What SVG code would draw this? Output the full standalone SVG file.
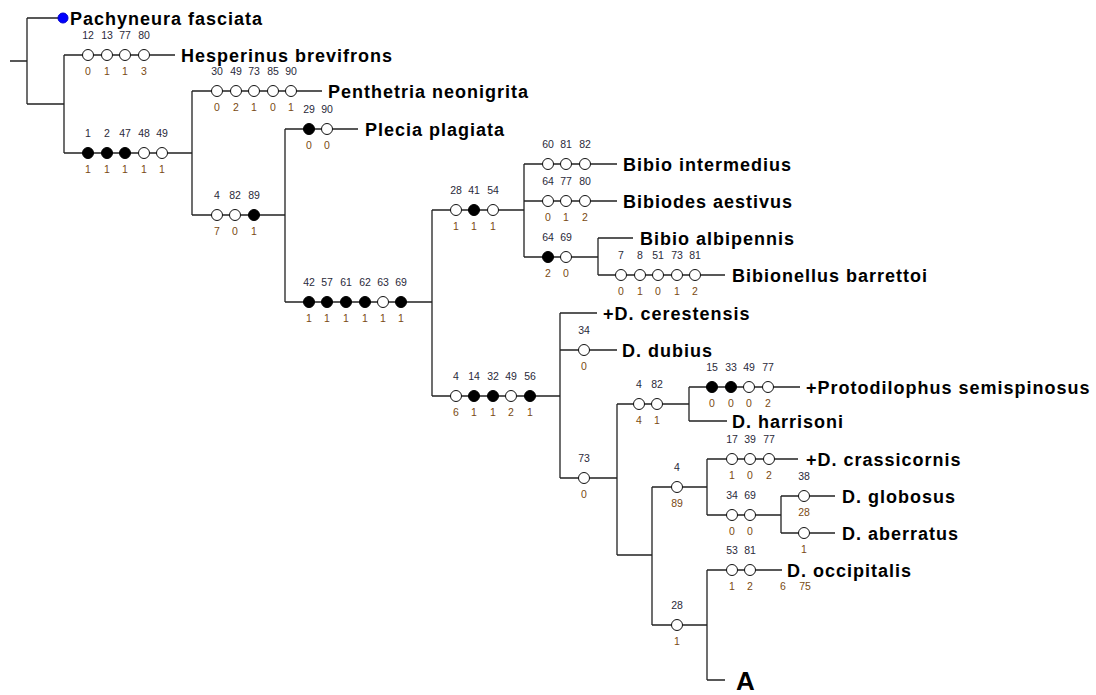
<svg xmlns="http://www.w3.org/2000/svg" width="1096" height="695" viewBox="0 0 1096 695">
<style>
.ln{stroke:#222;stroke-width:1.3;fill:none}
.o{fill:#fff;stroke:#111;stroke-width:1}
.f{fill:#000;stroke:#000;stroke-width:1}
.t{font-family:"Liberation Sans",Arial,sans-serif;font-size:10.5px;fill:#2a2a3a;text-anchor:middle}
.b{font-family:"Liberation Sans",Arial,sans-serif;font-size:10.5px;fill:#7a4a12;text-anchor:middle}
.n{font-family:"Liberation Sans",Arial,sans-serif;font-size:18px;font-weight:bold;letter-spacing:1px;fill:#000}
</style>
<rect width="1096" height="695" fill="#fff"/>
<g id="connectors" class="ln">
<path d="M10 61H27M27 18V104M27 18H63M27 104H64"/>
<path d="M64 55V153M64 55H175M64 153H192"/>
<path d="M192 91V215M192 91H322M192 215H285"/>
<path d="M285 129V302M285 129H358M285 302H432"/>
<path d="M432 210V396M432 210H524M432 396H560"/>
<path d="M524 164V257M524 164H617M524 201H617M524 257H598"/>
<path d="M598 238V275M598 238H633M598 275H725"/>
<path d="M560 313V478M560 313H597M560 350H617M560 478H617"/>
<path d="M617 404V555M617 404H689M617 555H652"/>
<path d="M689 387V421M689 387H800M689 421H727"/>
<path d="M652 487V625M652 487H707M652 625H707"/>
<path d="M707 459V515M707 459H798M707 515H781"/>
<path d="M781 496V533M781 496H835M781 533H835"/>
<path d="M707 570V680M707 570H782M707 680H725"/>
</g>
<g id="pachyneura"><circle cx="63" cy="18" r="5" fill="#0000ff" stroke="#0000cc"/><text class="n" x="70" y="24.5">Pachyneura fasciata</text></g>
<g id="hesperinus">
<circle class="o" cx="88" cy="55" r="5.5"/><circle class="o" cx="107" cy="55" r="5.5"/><circle class="o" cx="125" cy="55" r="5.5"/><circle class="o" cx="144" cy="55" r="5.5"/>
<text class="t" y="39"><tspan x="88">12</tspan><tspan x="107">13</tspan><tspan x="125">77</tspan><tspan x="144">80</tspan></text>
<text class="b" y="75"><tspan x="88">0</tspan><tspan x="107">1</tspan><tspan x="125">1</tspan><tspan x="144">3</tspan></text>
<text class="n" x="181" y="61.5">Hesperinus brevifrons</text></g>
<g id="node-bibionidae">
<circle class="f" cx="88" cy="153" r="5.5"/><circle class="f" cx="107" cy="153" r="5.5"/><circle class="f" cx="125" cy="153" r="5.5"/><circle class="o" cx="144" cy="153" r="5.5"/><circle class="o" cx="162" cy="153" r="5.5"/>
<text class="t" y="137"><tspan x="88">1</tspan><tspan x="107">2</tspan><tspan x="125">47</tspan><tspan x="144">48</tspan><tspan x="162">49</tspan></text>
<text class="b" y="173"><tspan x="88">1</tspan><tspan x="107">1</tspan><tspan x="125">1</tspan><tspan x="144">1</tspan><tspan x="162">1</tspan></text></g>
<g id="penthetria">
<circle class="o" cx="217" cy="91" r="5.5"/><circle class="o" cx="236" cy="91" r="5.5"/><circle class="o" cx="254" cy="91" r="5.5"/><circle class="o" cx="273" cy="91" r="5.5"/><circle class="o" cx="291" cy="91" r="5.5"/>
<text class="t" y="75"><tspan x="217">30</tspan><tspan x="236">49</tspan><tspan x="254">73</tspan><tspan x="273">85</tspan><tspan x="291">90</tspan></text>
<text class="b" y="111"><tspan x="217">0</tspan><tspan x="236">2</tspan><tspan x="254">1</tspan><tspan x="273">0</tspan><tspan x="291">1</tspan></text>
<text class="n" x="328" y="97.5">Penthetria neonigrita</text></g>
<g id="node-2">
<circle class="o" cx="217" cy="215" r="5.5"/><circle class="o" cx="235" cy="215" r="5.5"/><circle class="f" cx="254" cy="215" r="5.5"/>
<text class="t" y="199"><tspan x="217">4</tspan><tspan x="235">82</tspan><tspan x="254">89</tspan></text>
<text class="b" y="235"><tspan x="217">7</tspan><tspan x="235">0</tspan><tspan x="254">1</tspan></text></g>
<g id="plecia">
<circle class="f" cx="309" cy="129" r="5.5"/><circle class="o" cx="327" cy="129" r="5.5"/>
<text class="t" y="113"><tspan x="309">29</tspan><tspan x="327">90</tspan></text>
<text class="b" y="149"><tspan x="309">0</tspan><tspan x="327">0</tspan></text>
<text class="n" x="365" y="135.5">Plecia plagiata</text></g>
<g id="node-3">
<circle class="f" cx="309" cy="302" r="5.5"/><circle class="f" cx="327" cy="302" r="5.5"/><circle class="f" cx="346" cy="302" r="5.5"/><circle class="f" cx="365" cy="302" r="5.5"/><circle class="o" cx="383" cy="302" r="5.5"/><circle class="f" cx="401" cy="302" r="5.5"/>
<text class="t" y="286"><tspan x="309">42</tspan><tspan x="327">57</tspan><tspan x="346">61</tspan><tspan x="365">62</tspan><tspan x="383">63</tspan><tspan x="401">69</tspan></text>
<text class="b" y="322"><tspan x="309">1</tspan><tspan x="327">1</tspan><tspan x="346">1</tspan><tspan x="365">1</tspan><tspan x="383">1</tspan><tspan x="401">1</tspan></text></g>
<g id="node-bibio">
<circle class="o" cx="456" cy="210" r="5.5"/><circle class="f" cx="474" cy="210" r="5.5"/><circle class="o" cx="493" cy="210" r="5.5"/>
<text class="t" y="194"><tspan x="456">28</tspan><tspan x="474">41</tspan><tspan x="493">54</tspan></text>
<text class="b" y="230"><tspan x="456">1</tspan><tspan x="474">1</tspan><tspan x="493">1</tspan></text></g>
<g id="bibio-intermedius">
<circle class="o" cx="548" cy="164" r="5.5"/><circle class="o" cx="566" cy="164" r="5.5"/><circle class="o" cx="585" cy="164" r="5.5"/>
<text class="t" y="148"><tspan x="548">60</tspan><tspan x="566">81</tspan><tspan x="585">82</tspan></text>
<text class="n" x="623" y="170.5">Bibio intermedius</text></g>
<g id="bibiodes">
<circle class="o" cx="548" cy="201" r="5.5"/><circle class="o" cx="566" cy="201" r="5.5"/><circle class="o" cx="585" cy="201" r="5.5"/>
<text class="t" y="185"><tspan x="548">64</tspan><tspan x="566">77</tspan><tspan x="585">80</tspan></text>
<text class="b" y="221"><tspan x="548">0</tspan><tspan x="566">1</tspan><tspan x="585">2</tspan></text>
<text class="n" x="623" y="207.5">Bibiodes aestivus</text></g>
<g id="node-4">
<circle class="f" cx="548" cy="257" r="5.5"/><circle class="o" cx="566" cy="257" r="5.5"/>
<text class="t" y="241"><tspan x="548">64</tspan><tspan x="566">69</tspan></text>
<text class="b" y="277"><tspan x="548">2</tspan><tspan x="566">0</tspan></text></g>
<g id="bibio-albipennis"><text class="n" x="640" y="244.5">Bibio albipennis</text></g>
<g id="bibionellus">
<circle class="o" cx="621" cy="275" r="5.5"/><circle class="o" cx="640" cy="275" r="5.5"/><circle class="o" cx="658" cy="275" r="5.5"/><circle class="o" cx="677" cy="275" r="5.5"/><circle class="o" cx="695" cy="275" r="5.5"/>
<text class="t" y="259"><tspan x="621">7</tspan><tspan x="640">8</tspan><tspan x="658">51</tspan><tspan x="677">73</tspan><tspan x="695">81</tspan></text>
<text class="b" y="295"><tspan x="621">0</tspan><tspan x="640">1</tspan><tspan x="658">0</tspan><tspan x="677">1</tspan><tspan x="695">2</tspan></text>
<text class="n" x="732" y="281.5">Bibionellus barrettoi</text></g>
<g id="node-dilophus">
<circle class="o" cx="456" cy="396" r="5.5"/><circle class="f" cx="474" cy="396" r="5.5"/><circle class="f" cx="493" cy="396" r="5.5"/><circle class="o" cx="511" cy="396" r="5.5"/><circle class="f" cx="530" cy="396" r="5.5"/>
<text class="t" y="380"><tspan x="456">4</tspan><tspan x="474">14</tspan><tspan x="493">32</tspan><tspan x="511">49</tspan><tspan x="530">56</tspan></text>
<text class="b" y="416"><tspan x="456">6</tspan><tspan x="474">1</tspan><tspan x="493">1</tspan><tspan x="511">2</tspan><tspan x="530">1</tspan></text></g>
<g id="d-cerestensis"><text class="n" x="603" y="319.5">+D. cerestensis</text></g>
<g id="d-dubius">
<circle class="o" cx="584" cy="350" r="5.5"/>
<text class="t" x="584" y="334">34</text><text class="b" x="584" y="370">0</text>
<text class="n" x="622" y="356.5">D. dubius</text></g>
<g id="node-5">
<circle class="o" cx="584" cy="478" r="5.5"/>
<text class="t" x="584" y="462">73</text><text class="b" x="584" y="498">0</text></g>
<g id="node-6">
<circle class="o" cx="639" cy="404" r="5.5"/><circle class="o" cx="657" cy="404" r="5.5"/>
<text class="t" y="388"><tspan x="639">4</tspan><tspan x="657">82</tspan></text>
<text class="b" y="424"><tspan x="639">4</tspan><tspan x="657">1</tspan></text></g>
<g id="protodilophus">
<circle class="f" cx="712" cy="387" r="5.5"/><circle class="f" cx="731" cy="387" r="5.5"/><circle class="o" cx="749" cy="387" r="5.5"/><circle class="o" cx="768" cy="387" r="5.5"/>
<text class="t" y="371"><tspan x="712">15</tspan><tspan x="731">33</tspan><tspan x="749">49</tspan><tspan x="768">77</tspan></text>
<text class="b" y="407"><tspan x="712">0</tspan><tspan x="731">0</tspan><tspan x="749">0</tspan><tspan x="768">2</tspan></text>
<text class="n" x="806" y="393.5">+Protodilophus semispinosus</text></g>
<g id="d-harrisoni"><text class="n" x="732" y="427.5">D. harrisoni</text></g>
<g id="node-7">
<circle class="o" cx="677" cy="487" r="5.5"/>
<text class="t" x="677" y="471">4</text><text class="b" x="677" y="507">89</text></g>
<g id="d-crassicornis">
<circle class="o" cx="732" cy="459" r="5.5"/><circle class="o" cx="750" cy="459" r="5.5"/><circle class="o" cx="769" cy="459" r="5.5"/>
<text class="t" y="443"><tspan x="732">17</tspan><tspan x="750">39</tspan><tspan x="769">77</tspan></text>
<text class="b" y="479"><tspan x="732">1</tspan><tspan x="750">0</tspan><tspan x="769">2</tspan></text>
<text class="n" x="806" y="465.5">+D. crassicornis</text></g>
<g id="node-8">
<circle class="o" cx="732" cy="515" r="5.5"/><circle class="o" cx="750" cy="515" r="5.5"/>
<text class="t" y="499"><tspan x="732">34</tspan><tspan x="750">69</tspan></text>
<text class="b" y="535"><tspan x="732">0</tspan><tspan x="750">0</tspan></text></g>
<g id="d-globosus">
<circle class="o" cx="804" cy="496" r="5.5"/>
<text class="t" x="804" y="480">38</text><text class="b" x="804" y="516">28</text>
<text class="n" x="842" y="502.5">D. globosus</text></g>
<g id="d-aberratus">
<circle class="o" cx="804" cy="533" r="5.5"/>
<text class="b" x="804" y="553">1</text>
<text class="n" x="842" y="539.5">D. aberratus</text></g>
<g id="d-occipitalis">
<circle class="o" cx="732" cy="570" r="5.5"/><circle class="o" cx="750" cy="570" r="5.5"/>
<text class="t" y="554"><tspan x="732">53</tspan><tspan x="750">81</tspan></text>
<text class="b" y="590"><tspan x="732">1</tspan><tspan x="750">2</tspan><tspan x="783">6</tspan><tspan x="805">75</tspan></text>
<text class="n" x="787" y="576.5">D. occipitalis</text></g>
<g id="node-9">
<circle class="o" cx="677" cy="625" r="5.5"/>
<text class="t" x="677" y="609">28</text><text class="b" x="677" y="645">1</text></g>
<g id="a"><text x="736" y="690" font-family="'Liberation Sans',Arial,sans-serif" font-size="26" font-weight="bold">A</text></g>
</svg>
